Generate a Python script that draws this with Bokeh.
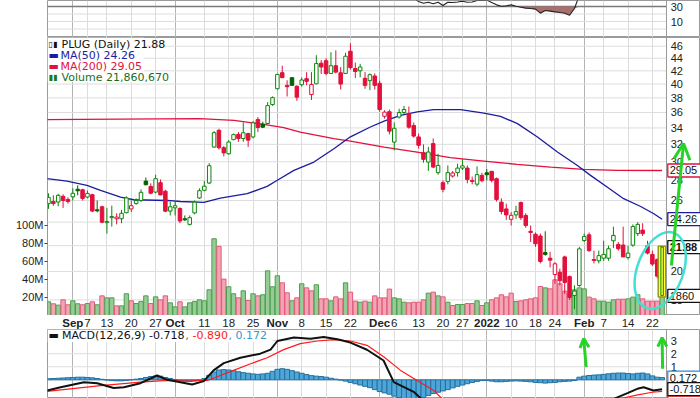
import numpy as np
from bokeh.plotting import figure
from bokeh.layouts import column
from bokeh.models import (Range1d, LinearAxis, LinearScale, FixedTicker, Grid, Label, Arrow,
                          OpenHead, ColumnDataSource, Span, GlobalInlineStyleSheet)
from bokeh.core.properties import value
from bokeh.embed import file_html
from bokeh.resources import INLINE

# ---------------- data (trading-day index 0 = 2021-08-25 ... 126 = 2022-02-24) ----------------
opens = [25.7, 25.9, 25.85, 26.4, 26.1, 26.35, 27.1, 27.05, 26.33, 26.56,
         25.12, 25.4, 23.95, 24.4, 24.3, 24.3, 24.85, 25.2, 25.7, 26.0,
         27.93, 27.38, 26.82, 27.77, 26.91, 25.0, 25.3, 25.24, 24.3, 23.8,
         24.83, 26.24, 27.0, 27.73, 31.68, 33.7, 31.6, 30.9, 32.56, 33.2,
         32.7, 33.3, 32.89, 35.07, 34.48, 34.57, 37.07, 39.31, 41.71, 39.8,
         40.95, 39.67, 39.9, 40.8, 38.47, 40.03, 43.2, 43.6, 41.6, 42.8,
         41.7, 41.6, 45.16, 42.35, 42.0, 40.85, 40.5, 41.2, 40.1, 35.5,
         36.1, 32.27, 35.4, 36.0, 35.84, 34.31, 32.89, 31.03, 29.97, 32.09,
         28.82, 27.77, 27.9, 28.46, 28.82, 29.31, 29.31, 28.0, 27.62, 28.53,
         28.8, 28.96, 28.18, 25.84, 25.2, 24.25, 24.65, 25.8, 24.6, 23.2,
         22.95, 22.8, 21.45, 21.0, 19.77, 19.94, 21.1, 19.62, 18.3, 18.98,
         22.42, 22.9, 20.9, 20.8, 21.0, 21.0, 22.4, 22.1, 22.05, 21.05,
         22.04, 23.0, 23.3, 22.0, 21.3, 20.9, 18.29]
highs = [26.7, 26.5, 26.65, 26.6, 26.3, 27.2, 27.5, 27.15, 26.98, 26.66,
         26.0, 25.5, 25.3, 25.5, 24.8, 25.1, 26.4, 26.0, 26.2, 27.1,
         28.3, 27.7, 28.6, 28.1, 27.05, 25.9, 25.9, 25.35, 24.6, 24.6,
         26.0, 27.2, 27.95, 29.85, 33.6, 33.9, 31.8, 32.5, 33.3, 33.5,
         34.7, 33.4, 34.9, 35.4, 34.8, 37.4, 38.2, 41.5, 42.8, 40.55,
         41.0, 39.8, 41.0, 41.8, 41.8, 44.5, 43.7, 44.0, 45.0, 45.3,
         42.6, 44.9, 46.5, 43.3, 43.1, 41.8, 41.6, 41.6, 40.5, 36.3,
         36.4, 34.7, 36.5, 36.9, 36.8, 34.7, 33.3, 32.0, 31.7, 32.7,
         30.9, 28.0, 29.6, 29.0, 29.8, 30.3, 29.6, 28.4, 29.5, 28.8,
         29.2, 29.0, 28.3, 26.2, 25.7, 24.9, 25.5, 25.9, 24.8, 23.7,
         23.1, 23.0, 23.2, 21.5, 20.7, 20.2, 21.2, 19.7, 19.0, 21.9,
         23.0, 23.1, 21.6, 21.6, 22.4, 22.0, 23.6, 22.3, 23.6, 22.0,
         23.8, 24.0, 23.9, 22.4, 21.6, 21.0, 22.0]
lows = [25.2, 25.5, 25.45, 25.3, 25.7, 26.0, 26.5, 26.0, 26.2, 24.9,
        24.9, 23.9, 23.0, 23.6, 23.8, 23.9, 24.8, 24.9, 25.6, 25.85,
        27.5, 26.6, 26.7, 26.5, 24.9, 24.6, 24.6, 23.9, 24.1, 23.7,
        24.7, 26.15, 26.9, 27.65, 31.6, 31.4, 30.6, 30.8, 32.5, 32.3,
        32.3, 31.7, 32.7, 33.5, 34.0, 34.5, 36.9, 39.2, 40.9, 38.2,
        39.8, 37.6, 39.6, 39.8, 37.7, 40.0, 41.5, 41.3, 41.5, 41.6,
        39.2, 41.5, 42.2, 40.9, 41.0, 39.3, 39.1, 39.2, 36.1, 35.2,
        33.2, 31.3, 35.2, 35.8, 33.9, 32.8, 31.5, 29.9, 29.0, 29.3,
        28.6, 26.8, 27.6, 28.3, 28.4, 29.1, 27.7, 27.6, 27.4, 27.8,
        28.0, 27.8, 25.9, 24.7, 24.2, 23.7, 24.3, 24.2, 23.5, 22.3,
        21.9, 20.6, 21.2, 20.3, 19.1, 19.0, 18.4, 18.0, 17.4, 18.9,
        22.3, 21.5, 20.6, 20.6, 20.8, 20.8, 21.8, 21.6, 21.1, 20.9,
        21.9, 22.8, 22.8, 21.3, 20.4, 19.5, 18.2]
closes = [26.3, 25.7, 26.5, 26.0, 25.9, 26.7, 26.95, 26.2, 26.69, 25.0,
          25.02, 23.99, 24.05, 24.5, 24.45, 24.8, 26.25, 25.5, 26.0, 26.8,
          27.56, 26.71, 28.18, 26.54, 24.99, 25.4, 25.5, 24.1, 24.2, 24.4,
          25.84, 26.96, 27.41, 29.57, 33.41, 31.6, 31.0, 32.27, 33.17, 32.7,
          33.4, 32.5, 34.65, 34.06, 34.1, 36.93, 38.03, 41.45, 40.95, 39.6,
          39.8, 38.1, 40.6, 40.4, 39.93, 43.14, 42.6, 41.6, 42.8, 41.8,
          40.0, 44.33, 42.5, 41.9, 42.6, 39.8, 41.4, 39.8, 36.4, 36.05,
          33.6, 33.96, 36.0, 36.4, 34.1, 32.99, 31.89, 30.27, 31.1, 29.42,
          29.6, 27.09, 28.82, 28.78, 29.31, 29.55, 28.1, 27.9, 28.61, 27.98,
          28.6, 28.01, 26.1, 24.96, 24.65, 24.61, 24.95, 24.4, 23.7, 23.1,
          22.15, 20.75, 21.3, 20.85, 20.57, 19.33, 19.2, 18.17, 18.6, 21.74,
          22.76, 21.6, 20.83, 21.2, 21.3, 21.75, 22.85, 21.75, 21.1, 21.4,
          23.61, 23.8, 23.0, 21.4, 20.55, 19.65, 21.88]
volume_m = [15.2, 13.0, 11.5, 17.4, 11.9, 16.3, 13.0, 11.9, 13.3, 15.2,
            11.9, 21.8, 19.6, 19.6, 10.7, 10.7, 24.1, 16.3, 13.3, 15.6,
            21.8, 13.3, 20.7, 17.4, 21.8, 14.1, 9.6, 15.2, 9.6, 14.1,
            15.6, 17.4, 16.3, 28.5, 85.2, 76.7, 40.4, 31.9, 24.1, 19.6,
            27.4, 16.7, 24.1, 21.8, 23.0, 49.6, 31.9, 44.1, 36.3, 25.2,
            16.3, 19.6, 35.2, 30.7, 27.4, 34.1, 18.5, 18.5, 16.3, 20.7,
            18.5, 36.3, 25.9, 15.9, 14.8, 15.9, 14.8, 21.8, 19.6, 19.6,
            29.3, 19.6, 18.5, 14.8, 14.1, 14.8, 14.8, 17.4, 24.8, 25.9,
            21.8, 20.7, 14.8, 11.1, 12.2, 12.2, 13.3, 13.3, 16.3, 11.1,
            14.1, 17.4, 19.6, 23.0, 20.7, 24.8, 15.6, 16.3, 17.4, 18.5,
            19.6, 32.2, 30.7, 29.6, 39.6, 35.2, 27.0, 24.1, 28.5, 30.7,
            29.6, 20.4, 18.5, 15.9, 15.9, 14.8, 17.4, 18.1, 18.1, 18.5,
            20.4, 23.0, 18.5, 15.9, 15.9, 15.9, 21.86]
rsi = [50, 47, 52, 49, 48, 53, 55, 50, 53, 44,
       44, 40, 41, 44, 44, 46, 52, 49, 51, 54,
       56, 52, 57, 51, 45, 46, 47, 43, 43, 44,
       49, 53, 55, 61, 68, 61, 59, 62, 64, 62,
       63, 60, 65, 63, 63, 68, 70, 74, 70, 65,
       65, 61, 64, 63, 61, 66, 64, 61, 63, 61,
       58, 63, 58, 56, 57, 52, 55, 52, 46, 45,
       42, 44, 47, 48, 44, 41, 36.7, 34.4, 35.7, 33.6,
       35.7, 31.3, 35.7, 35.3, 36.0, 37.0, 35.7, 36.0, 38.0, 38.0,
       38.5, 35.3, 32.2, 30.4, 30.9, 32.2, 30.4, 29.1, 27.8, 27.3,
       26.5, 21.1, 24.7, 23.8, 22.9, 22.0, 21.1, 18.4, 27.3, 45,
       47, 43, 40, 42, 42, 44, 46, 44, 42, 41,
       45, 47, 45, 42, 40, 39, 44]
macd_hist = [0.08, 0.1, 0.12, 0.14, 0.16, 0.18, 0.2, 0.2, 0.18, 0.15,
             0.1, 0.04, -0.02, -0.06, -0.08, -0.08, -0.05, 0.0, 0.05, 0.1,
             0.18, 0.25, 0.3, 0.28, 0.18, 0.1, 0.02, -0.05, -0.1, -0.12,
             -0.08, -0.02, 0.1, 0.35, 0.6, 0.75, 0.78, 0.75, 0.7, 0.62,
             0.55, 0.5, 0.45, 0.42, 0.45, 0.5, 0.65, 0.8, 0.85, 0.8,
             0.7, 0.6, 0.5, 0.4, 0.32, 0.28, 0.25, 0.2, 0.12, 0.05,
             -0.02, -0.1, -0.2, -0.3, -0.4, -0.5, -0.6, -0.75, -0.9, -1.0,
             -1.1, -1.25, -1.35, -1.45, -1.5, -1.5, -1.45, -1.35, -1.2, -1.05,
             -0.95, -0.85, -0.75, -0.62, -0.5, -0.4, -0.3, -0.2, -0.12, -0.06,
             -0.05, -0.1, -0.15, -0.15, -0.12, -0.1, -0.08, -0.1, -0.12, -0.15,
             -0.2, -0.22, -0.25, -0.22, -0.2, -0.15, -0.12, -0.1, -0.05, 0.2,
             0.28, 0.33, 0.36, 0.38, 0.42, 0.46, 0.5, 0.52, 0.52, 0.48,
             0.45, 0.5, 0.52, 0.45, 0.3, 0.2, 0.172]

ma50_idx = [-0.3, 3.8, 7.9, 10.7, 14.8, 17.5, 24.4, 27.1, 31.9, 35.3, 40.8, 44.9, 46.9, 50.4,
            54.5, 58.6, 62.0, 66.1, 68.9, 72.3, 75.7, 79.1, 84.6, 89.4, 92.8, 96.3, 100.4,
            104.5, 108.6, 111.3, 114.7, 118.1, 121.6, 124.3, 126.0]
ma50_val = [28.18, 27.93, 27.49, 26.98, 26.33, 26.07, 26.0, 25.9, 25.81, 26.23, 26.66, 27.39,
            28.0, 29.06, 29.97, 31.49, 32.9, 34.12, 34.88, 35.63, 36.07, 36.39, 36.39, 35.93,
            35.49, 34.55, 32.88, 31.1, 29.6, 28.53, 27.32, 26.17, 25.43, 24.75, 24.26]
ma200_idx = [-0.3, 6.6, 31.0, 38.1, 44.2, 48.3, 51.7, 58.6, 62.0, 68.9, 75.7, 82.5, 89.4,
             96.2, 103.1, 109.9, 116.8, 126.0]
ma200_val = [35.06, 35.1, 35.19, 34.97, 34.46, 34.04, 33.49, 32.68, 32.38, 31.68, 31.1,
             30.46, 30.08, 29.71, 29.42, 29.17, 29.06, 29.05]
macd_idx = [-0.3, 2.5, 7.3, 10, 13.4, 15.5, 18.9, 22.3, 24.4, 27.1, 29.5, 31.9, 33.9, 36,
            39.4, 43.5, 45.6, 47, 50.4, 53.8, 56.5, 59.3, 62, 65.4, 68.8, 70.9, 75.1, 76.5,
            80, 85, 90, 95, 100, 105, 108, 111, 114, 116.2, 119, 120.9, 122.2, 124.2, 126]
macd_val = [-0.82, -0.57, -0.18, -0.26, -0.62, -0.57, -0.26, 0.33, 0.0, -0.18, -0.36, -0.1,
            0.72, 1.28, 1.69, 2.0, 2.31, 2.97, 3.23, 3.15, 3.28, 3.1, 2.85, 2.3, 1.48, -0.18,
            -0.95, -1.44, -2.0, -2.4, -2.5, -2.6, -3.0, -3.3, -2.7, -2.1, -1.7, -1.44, -1.0,
            -0.69, -0.57, -0.82, -0.718]
signal_idx = [-0.3, 10.7, 18.9, 24.4, 28.5, 32.6, 35.3, 38, 41.5, 44.9, 48.3, 51.7, 55.2,
              58.6, 62, 65.4, 68.9, 72.3, 75.7, 79.1, 80.8, 85, 90, 95, 100, 105, 110, 114,
              117.5, 121, 124, 126]
signal_val = [-0.88, -0.44, -0.18, -0.05, -0.1, -0.05, 0.33, 0.72, 1.23, 1.69, 2.31, 2.77,
              2.97, 3.08, 2.97, 2.64, 1.74, 0.72, -0.05, -0.82, -1.44, -1.9, -2.2, -2.4, -2.6,
              -2.9, -2.6, -2.0, -1.44, -1.15, -0.95, -0.89]

date_tick_idx = [5, 8, 12, 17, 22, 26, 32, 37, 42, 47, 52, 57, 62, 68, 71, 76, 81, 85, 90,
                 95, 100, 104, 110, 114, 119, 124]
date_tick_txt = ["Sep", "7", "13", "20", "27", "Oct", "11", "18", "25", "Nov", "8", "15", "22",
                 "Dec", "6", "13", "20", "27", "2022", "10", "18", "24", "Feb", "7", "14", "22"]
date_tick_month = [True, False, False, False, False, True, False, False, False, True, False,
                   False, False, True, False, False, False, False, True, False, False, False,
                   True, False, False, False]
price_ticks = [18, 20, 22, 24, 26, 28, 30, 32, 34, 36, 38, 40, 42, 44, 46]
vol_ticks = [20, 40, 60, 80, 100]
macd_ticks = [1, 2, 3]
rsi_ticks = [10, 30]
last_ma50, last_ma200 = 24.26, 29.05
last_macd, last_signal, last_hist = -0.718, -0.890, 0.172
last_volume_text = "21,860,670"

# ---------------- derived styling ----------------
o = np.array(opens); h = np.array(highs); l = np.array(lows); c = np.array(closes)
n = len(c)
idx = np.arange(n)
prev = np.concatenate([[c[0] - 1.0], c[:-1]])
up = c >= prev
hollow = c > o
GREEN = "#0a870a"; GREEN_F = "#006400"; RED = "#e3103c"
edge = np.where(up, np.where(hollow, GREEN, GREEN_F), RED)
fill = np.where(hollow, "white", np.where(up, GREEN_F, RED))
src = ColumnDataSource(dict(
    x=idx, o=o, h=h, l=l, c=c, top=np.maximum(o, c), bot=np.minimum(o, c),
    edge=edge, fill=fill, vol=volume_m,
    vfill=np.where(up, "#95cb95", "#f3a5b5"), vline=np.where(up, "#4f9e4f", "#e35a78"),
    hist=macd_hist, rsi=rsi, rsi_lo=np.minimum(rsi, 30)))

week_ticks = [t for t, m in zip(date_tick_idx, date_tick_month) if not m]
month_ticks = [t for t, m in zip(date_tick_idx, date_tick_month) if m]

X_LEFT, X_EDGE, X_RIGHT = -0.2, 126.9, 133.88   # plot area ends at X_EDGE; label column to X_RIGHT
X_LBL = 127.75        # x of right-hand labels
X_TAG = 130.55        # centre of value tags
XR = Range1d(X_LEFT, X_RIGHT)
KW = dict(width=700, x_range=XR, toolbar_location=None, output_backend="svg",
          min_border_left=47, min_border_right=0, min_border_top=0, min_border_bottom=0,
          x_axis_location=None, y_axis_location=None,
          background_fill_color="white", border_fill_color="white")
FONT_AX = "Liberation Sans"
FONT_LG = "DejaVu Sans"
GRID = "#dddddd"


def strip_grids(fig):
    fig.center = [r for r in fig.center if not isinstance(r, Grid)]


def add_vgrid(fig):
    fig.add_layout(Grid(dimension=0, ticker=FixedTicker(ticks=week_ticks), grid_line_color=GRID))
    fig.add_layout(Grid(dimension=0, ticker=FixedTicker(ticks=month_ticks), grid_line_color="#b3b3b3"))
    fig.add_layout(Span(location=X_EDGE, dimension="height", line_color="#9a9a9a", line_width=1))


def add_hgrid(fig, ticks, color=GRID, width=1):
    fig.segment(x0=[X_LEFT] * len(ticks), x1=[X_EDGE] * len(ticks), y0=ticks, y1=ticks,
                line_color=color, line_width=width)


def right_labels(fig, ticks, texts):
    fig.text(x=[X_LBL] * len(ticks), y=ticks, text=texts, text_align="left",
             text_baseline="middle", text_font=value(FONT_AX), text_font_size="11px",
             text_color="#222222")


def tag(fig, y, text, color, bold=False, y_range_name="default"):
    fig.rect(x=[X_TAG], y=[y], width=33, height=13, width_units="screen", height_units="screen",
             fill_color="white", line_color=color, line_width=1.3, y_range_name=y_range_name)
    if text:
        fig.text(x=[X_LBL - 0.2], y=[y], text=[text], text_align="left", text_baseline="middle",
                 text_font=value(FONT_AX), text_font_size="11px", text_color="#111111",
                 text_font_style="bold" if bold else "normal", y_range_name=y_range_name)


def legend_text(fig, x, y, text, color, size="11px"):
    fig.add_layout(Label(x=x, y=y, x_units="screen", y_units="screen", text=text,
                         text_baseline="middle", text_font=FONT_LG, text_font_size=size,
                         text_color=color))


# ---------------- RSI strip (top) ----------------
r = figure(height=37, y_range=Range1d(-11.3, 38), outline_line_color="#9a9a9a", **KW)
strip_grids(r)
add_vgrid(r)
add_hgrid(r, [0, 10, 20])
add_hgrid(r, [30], color="#7a7a7a", width=1.3)
right_labels(r, rsi_ticks, [str(t) for t in rsi_ticks])
r.varea(x="x", y1="rsi_lo", y2=30, source=src, fill_color="#a8716d")
r.line(x="x", y="rsi", source=src, line_color="#222222", line_width=1.1)

# ---------------- price + volume ----------------
p = figure(height=278, y_range=Range1d(16.99, 47.51), y_axis_type="log",
           outline_line_color="#9a9a9a", **KW)
strip_grids(p)
add_vgrid(p)
add_hgrid(p, price_ticks)
right_labels(p, price_ticks, [str(t) for t in price_ticks])
p.extra_y_ranges = {"vol": Range1d(0, 308.6)}
p.extra_y_scales = {"vol": LinearScale()}
vax = LinearAxis(y_range_name="vol", ticker=FixedTicker(ticks=vol_ticks),
                 major_label_overrides={v: f"{v}M" for v in vol_ticks})
vax.axis_line_color = None
vax.minor_tick_line_color = None
vax.major_tick_line_color = "#444444"
vax.major_tick_out = 3
vax.major_tick_in = 0
vax.major_label_standoff = 1
vax.major_label_text_font = FONT_AX
vax.major_label_text_font_size = "11px"
vax.major_label_text_color = "#222222"
p.add_layout(vax, "left")

# legend background
p.quad(left=[X_LEFT], right=[19.6], top=[47.51], bottom=[40.3], fill_color="white", line_color=None)
# volume
p.vbar(x="x", width=0.9, top="vol", bottom=0, y_range_name="vol", source=src,
       fill_color="vfill", line_color="vline", line_width=1)
# moving averages
p.line(ma200_idx, ma200_val, line_color="#e3103c", line_width=1.3)
p.line(ma50_idx, ma50_val, line_color="#1c1ca0", line_width=1.3)
# candles
p.segment(x0="x", y0="l", x1="x", y1="h", source=src, line_color="edge", line_width=1)
p.vbar(x="x", width=0.72, top="top", bottom="bot", source=src, fill_color="fill",
       line_color="edge", line_width=1)
# highlight of last candle
p.quad(left=[n - 1.8], right=[n - 0.25], top=[c[-1] + 0.07], bottom=[o[-1] - 0.1],
       fill_color="#ffff3a", line_color="#9a9a10", line_width=1.5)
p.vbar(x=[n - 1], width=0.5, top=[c[-1]], bottom=[o[-1]], fill_alpha=0,
       line_color=GREEN, line_width=1)

tag(p, last_ma200, f"{last_ma200:.2f}", "#e3103c")
tag(p, last_ma50, f"{last_ma50:.2f}", "#1c1ca0")
tag(p, c[-1], f"{c[-1]:.2f}", "#111111", bold=True)
tag(p, volume_m[-1], "1860", "#111111", y_range_name="vol")

# hand-drawn marks
p.ellipse(x=[125.6], y=[20.07], width=46, height=80, width_units="screen",
          height_units="screen", angle=-0.35, fill_color=None, line_color="#40e0d4",
          line_width=2.5)
p.add_layout(Arrow(end=OpenHead(size=16, line_color="#27d327", line_width=3),
                   x_start=127.9, y_start=20.44, x_end=130.4, y_end=32.1,
                   line_color="#27d327", line_width=3))

legend_text(p, 1, 271, "▯▮", "#111111", size="8px")
legend_text(p, 14, 271, f"PLUG (Daily) {c[-1]:.2f}", "#111111")
legend_text(p, 1, 260, "▬", "#1c1ca0")
legend_text(p, 13, 260, f"MA(50) {last_ma50:.2f}", "#1c1ca0")
legend_text(p, 1, 249, "▬", "#e3103c")
legend_text(p, 13, 249, f"MA(200) {last_ma200:.2f}", "#e3103c")
legend_text(p, 1, 238, "▮▮", "#1a7a1a", size="8px")
legend_text(p, 14, 238, f"Volume {last_volume_text}", "#1a6e1a")

# ---------------- date labels band ----------------
d = figure(height=14, y_range=Range1d(0, 1), outline_line_color=None, **KW)
strip_grids(d)
dsrc = ColumnDataSource(dict(x=date_tick_idx, t=date_tick_txt,
                             st=["bold" if m else "normal" for m in date_tick_month]))
d.text(x="x", y=0.45, text="t", source=dsrc, text_align="center", text_baseline="middle",
       text_font=value(FONT_AX), text_font_size="11.5px", text_font_style="st",
       text_color="#222222")

# ---------------- MACD ----------------
m = figure(height=69, y_range=Range1d(-1.43, 3.85), outline_line_color="#9a9a9a", **KW)
strip_grids(m)
add_vgrid(m)
add_hgrid(m, [0, 1, 2, 3])
right_labels(m, macd_ticks, [str(t) for t in macd_ticks])
m.quad(left=[X_LEFT], right=[46], top=[3.85], bottom=[2.9], fill_color="white", line_color=None)
m.vbar(x="x", width=1.0, top="hist", bottom=0, source=src, fill_color="#4ea6d8",
       line_color="#24709f", line_width=1)
m.line(signal_idx, signal_val, line_color="#ff1a1a", line_width=1.2)
m.line(macd_idx, macd_val, line_color="#111111", line_width=2)
m.add_layout(Arrow(end=OpenHead(size=9, line_color="#27d327", line_width=3),
                   x_start=110.4, y_start=0.97, x_end=109.9, y_end=3.15,
                   line_color="#27d327", line_width=3))
m.add_layout(Arrow(end=OpenHead(size=9, line_color="#27d327", line_width=3),
                   x_start=126.1, y_start=0.85, x_end=126.0, y_end=3.23,
                   line_color="#27d327", line_width=3))
# signal tag is pushed below the macd tag and only its top edge shows (as in the reference)
tag(m, last_signal - 0.86, "", "#ff1a1a")
tag(m, last_hist, f"{last_hist:.3f}", "#3388cc")
tag(m, last_macd, f"{last_macd:.3f}", "#111111")
legend_text(m, 1, 63, "▬", "#111111")
legend_text(m, 14.5, 63, f"MACD(12,26,9) {last_macd:.3f}", "#111111")
legend_text(m, 138, 63, f", {last_signal:.3f}", "#ff1a1a")
legend_text(m, 181, 63, f", {last_hist:.3f}", "#3399cc")

layout = column(r, p, d, m, spacing=0,
                stylesheets=[GlobalInlineStyleSheet(css="body { margin: 0; }")])

open("out.html", "w").write(file_html(layout, INLINE))
